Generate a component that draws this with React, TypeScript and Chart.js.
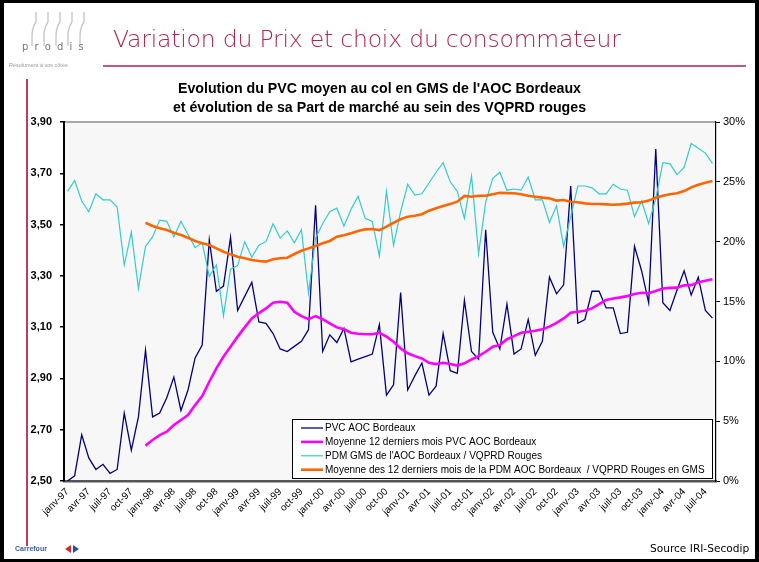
import React, { useEffect, useRef } from "react";
import { Chart, registerables } from "chart.js";

Chart.register(...registerables);

const MONTHS = ["janv", "févr", "mars", "avr", "mai", "juin", "juil", "août", "sept", "oct", "nov", "déc"];
const YEARS = ["97", "98", "99", "00", "01", "02", "03", "04"];
const N_MONTHS = 92; // janv-97 .. août-04
const CATEGORIES: string[] = [];
for (let i = 0; i < N_MONTHS; i++) CATEGORIES.push(`${MONTHS[i % 12]}-${YEARS[Math.floor(i / 12)]}`);

const LEFT_TICKS = [2.5, 2.7, 2.9, 3.1, 3.3, 3.5, 3.7, 3.9];
const RIGHT_TICKS = [0, 5, 10, 15, 20, 25, 30];

const PVC = [
  2.50, 2.52, 2.68, 2.59, 2.545, 2.565, 2.53, 2.545, 2.765, 2.62, 2.75, 3.01,
  2.75, 2.765, 2.825, 2.905, 2.775, 2.855, 2.98, 3.03, 3.44, 3.24, 3.26, 3.45,
  3.165, 3.22, 3.275, 3.12, 3.115, 3.075, 3.015, 3.005, 3.025, 3.045, 3.09, 3.575,
  3.005, 3.07, 3.04, 3.095, 2.965, 2.975, 2.985, 2.995, 3.11, 2.835, 2.875, 3.235,
  2.855, 2.91, 2.96, 2.835, 2.87, 3.075, 2.93, 2.92, 3.205, 3.005, 2.975, 3.48,
  3.08, 3.015, 3.19, 2.995, 3.015, 3.13, 2.99, 3.045, 3.295, 3.23, 3.265, 3.65,
  3.115, 3.13, 3.24, 3.24, 3.175, 3.175, 3.075, 3.08, 3.415, 3.32, 3.195, 3.795,
  3.195, 3.165, 3.245, 3.32, 3.225, 3.295, 3.165, 3.135,
];

const PVC_AVG12 = [
  null, null, null, null, null, null, null, null, null, null, null, 2.638,
  2.66, 2.679, 2.692, 2.718, 2.738, 2.757, 2.796, 2.831, 2.887, 2.939, 2.985, 3.024,
  3.063, 3.099, 3.134, 3.155, 3.173, 3.195, 3.199, 3.195, 3.16, 3.143, 3.131, 3.143,
  3.131, 3.115, 3.099, 3.092, 3.078, 3.074, 3.072, 3.072, 3.078, 3.063, 3.043, 3.017,
  2.998, 2.987, 2.978, 2.961, 2.956, 2.961, 2.956, 2.95, 2.959, 2.974, 2.987, 3.004,
  3.024, 3.03, 3.053, 3.065, 3.078, 3.082, 3.086, 3.092, 3.102, 3.117, 3.134, 3.156,
  3.16, 3.164, 3.173, 3.19, 3.206, 3.212, 3.216, 3.221, 3.229, 3.234, 3.232, 3.241,
  3.251, 3.253, 3.254, 3.263, 3.264, 3.275, 3.281, 3.287,
];

const PDM = [
  24.2, 25.1, 23.4, 22.5, 24.0, 23.5, 23.5, 22.9, 18.05, 20.8, 16.1, 19.6,
  20.4, 21.8, 21.7, 20.4, 21.7, 20.6, 19.5, 19.9, 17.1, 18.05, 13.8, 17.7,
  18.0, 20.0, 18.7, 19.7, 20.0, 21.5, 20.3, 20.9, 19.9, 21.0, 15.7, 20.3,
  21.5, 22.5, 22.8, 21.3, 22.7, 23.8, 21.95, 21.7, 18.8, 24.2, 19.7, 22.5,
  24.8, 23.9, 24.0, 24.9, 25.8, 26.6, 25.0, 24.2, 21.95, 25.5, 19.0, 23.3,
  25.3, 25.8, 24.3, 24.4, 24.3, 25.4, 23.5, 23.5, 21.6, 23.0, 19.6, 22.1,
  24.65, 24.65, 24.5, 24.0, 24.0, 24.8, 24.4, 24.3, 22.1, 23.4, 21.5, 23.6,
  26.6, 26.5, 25.6, 26.2, 28.2, 27.8, 27.4, 26.55,
];

const PDM_AVG12 = [
  null, null, null, null, null, null, null, null, null, null, null, 21.58,
  21.31, 21.12, 20.97, 20.75, 20.56, 20.33, 20.06, 19.86, 19.72, 19.44, 19.16, 18.94,
  18.74, 18.61, 18.47, 18.38, 18.33, 18.53, 18.61, 18.66, 18.97, 19.24, 19.44, 19.64,
  19.86, 20.06, 20.42, 20.53, 20.70, 20.89, 21.03, 21.06, 20.97, 21.25, 21.58, 21.87,
  22.09, 22.17, 22.29, 22.59, 22.79, 22.98, 23.15, 23.34, 23.82, 23.76, 23.84, 23.84,
  23.96, 24.09, 24.06, 24.04, 23.96, 23.84, 23.76, 23.68, 23.62, 23.43, 23.48, 23.34,
  23.29, 23.20, 23.15, 23.15, 23.12, 23.09, 23.12, 23.18, 23.26, 23.29, 23.43, 23.68,
  23.84, 23.96, 24.04, 24.23, 24.54, 24.76, 24.93, 25.07,
];

const SERIES_LABELS = [
  "PVC AOC Bordeaux",
  "Moyenne 12 derniers mois PVC AOC Bordeaux",
  "PDM GMS de l'AOC Bordeaux / VQPRD Rouges",
  "Moyenne des 12 derniers mois de la PDM AOC Bordeaux  / VQPRD Rouges en GMS",
];

const FONT = "'Liberation Sans', Arial, sans-serif";

const plotBgPlugin = {
  id: "plotBg",
  beforeDraw(chart: any) {
    const { ctx, chartArea: a } = chart;
    ctx.save();
    ctx.fillStyle = "#f7f7f7";
    ctx.fillRect(a.left, a.top, a.right - a.left, a.bottom - a.top);
    ctx.strokeStyle = "#a8a8a8";
    ctx.lineWidth = 2;
    ctx.beginPath();
    ctx.moveTo(a.left, a.top);
    ctx.lineTo(a.right, a.top);
    ctx.stroke();
    ctx.restore();
  },
};

const boxLegendPlugin = {
  id: "boxLegend",
  afterDraw(chart: any) {
    const { ctx, chartArea: a } = chart;
    const w = 420;
    const h = 59;
    const right = a.right - 4;
    const bottom = a.bottom - 3;
    const left = right - w;
    const top = bottom - h;
    ctx.save();
    ctx.fillStyle = "#ffffff";
    ctx.fillRect(left, top, w, h);
    ctx.strokeStyle = "#000";
    ctx.lineWidth = 1;
    ctx.strokeRect(left + 0.5, top + 0.5, w, h);
    ctx.font = `10px ${FONT}`;
    ctx.textBaseline = "middle";
    ctx.textAlign = "left";
    chart.data.datasets.forEach((ds: any, i: number) => {
      const y = top + 9 + i * 13.9;
      ctx.strokeStyle = ds.borderColor;
      ctx.lineWidth = ds.borderWidth;
      ctx.beginPath();
      ctx.moveTo(left + 9, y);
      ctx.lineTo(left + 31, y);
      ctx.stroke();
      ctx.fillStyle = "#000";
      ctx.fillText(ds.label, left + 33, y + 0.5);
    });
    ctx.restore();
  },
};

export default function App() {
  const ref = useRef<HTMLCanvasElement | null>(null);

  useEffect(() => {
    if (!ref.current) return;
    const chart = new Chart(ref.current, {
      type: "line",
      data: {
        labels: CATEGORIES,
        datasets: [
          { label: SERIES_LABELS[0], data: PVC, yAxisID: "y", borderColor: "#000080", borderWidth: 1.3, pointRadius: 0, tension: 0, order: 4 },
          { label: SERIES_LABELS[1], data: PVC_AVG12 as any, yAxisID: "y", borderColor: "#ff00ff", borderWidth: 2.6, pointRadius: 0, tension: 0, order: 3 },
          { label: SERIES_LABELS[2], data: PDM, yAxisID: "y1", borderColor: "#33cccc", borderWidth: 1.2, pointRadius: 0, tension: 0, order: 2 },
          { label: SERIES_LABELS[3], data: PDM_AVG12 as any, yAxisID: "y1", borderColor: "#ff6600", borderWidth: 2.6, pointRadius: 0, tension: 0, order: 1 },
        ],
      },
      options: {
        animation: false,
        responsive: false,
        maintainAspectRatio: false,
        layout: { padding: { left: 0, right: 0, top: 122, bottom: 0 } },
        plugins: { legend: { display: false }, tooltip: { enabled: false }, title: { display: false } },
        scales: {
          x: {
            type: "category",
            offset: true,
            grid: { display: false, drawTicks: false },
            border: { display: true, color: "#555", width: 2.5 },
            ticks: {
              autoSkip: false,
              maxRotation: 45,
              minRotation: 45,
              padding: 5,
              color: "#000",
              font: { family: FONT, size: 10 },
              callback: (_v: any, i: number) => (i % 3 === 0 ? CATEGORIES[i] : ""),
            },
            afterFit: (s: any) => { s.height = 81; },
          },
          y: {
            position: "left",
            min: 2.5,
            max: 3.9,
            afterBuildTicks: (s: any) => { s.ticks = LEFT_TICKS.map((v) => ({ value: v })); },
            grid: { display: true, drawOnChartArea: false, drawTicks: true, tickLength: 4, color: "#000", lineWidth: 1.5 },
            border: { display: true, color: "#000", width: 2 },
            ticks: {
              padding: 8,
              color: "#000",
              font: { family: FONT, size: 11, weight: "bold" },
              callback: (v: any) => Number(v).toFixed(2).replace(".", ","),
            },
            afterFit: (s: any) => { s.width = 64; },
          },
          y1: {
            position: "right",
            min: 0,
            max: 30,
            afterBuildTicks: (s: any) => { s.ticks = RIGHT_TICKS.map((v) => ({ value: v })); },
            grid: { display: true, drawOnChartArea: false, drawTicks: true, tickLength: 4, color: "#000", lineWidth: 1 },
            border: { display: true, color: "#000", width: 1.2 },
            ticks: {
              padding: 3,
              color: "#000",
              font: { family: FONT, size: 11 },
              callback: (v: any) => `${v}%`,
            },
            afterFit: (s: any) => { s.width = 43; },
          },
        },
      } as any,
      plugins: [plotBgPlugin, boxLegendPlugin],
    });
    return () => chart.destroy();
  }, []);

  const abs: React.CSSProperties = { position: "absolute" };
  const bottleXs = [36, 48, 60, 72, 84];

  return (
    <div style={{ position: "absolute", left: 0, top: 0, width: 759, height: 562, background: "#fff", overflow: "hidden", fontFamily: FONT }}>
      <canvas ref={ref} width={759} height={562} style={{ ...abs, left: 0, top: 0, width: 759, height: 562 }} />

      {/* prodis logo */}
      <svg width={100} height={50} style={{ ...abs, left: 0, top: 8 }}>
        {bottleXs.map((x) => (
          <path key={x} d={`M${x} 4 L${x} 14 Q${x - 4} 20 ${x - 4} 28 L${x - 4} 38`} stroke="#c8c8c8" strokeWidth={1.4} fill="none" />
        ))}
      </svg>
      <div style={{ ...abs, left: 22, top: 41, fontSize: 10, letterSpacing: 6.2, color: "#777", fontFamily: "'DejaVu Sans', sans-serif" }}>prodis</div>
      <div style={{ ...abs, left: 9, top: 62, fontSize: 5.5, color: "#999", whiteSpace: "nowrap" }}>Résolument à vos côtés</div>

      {/* page title */}
      <div style={{ ...abs, left: 113, top: 25, fontSize: 23.5, color: "#b3234b", fontFamily: "'DejaVu Sans', sans-serif", fontWeight: 300, whiteSpace: "nowrap", letterSpacing: -0.2 }}>
        Variation du Prix et choix du consommateur
      </div>
      <div style={{ ...abs, left: 103, top: 65, width: 643, height: 1.5, background: "#c2587a" }} />
      <div style={{ ...abs, left: 26, top: 79, width: 1.5, height: 467, background: "#c23a60" }} />

      {/* chart title */}
      <div style={{ ...abs, left: 0, top: 79, width: 759, textAlign: "center", fontWeight: "bold", fontSize: 14.2, lineHeight: "18.5px", color: "#000" }}>
        Evolution du PVC moyen au col en GMS de l'AOC Bordeaux
        <br />
        et évolution de sa Part de marché au sein des VQPRD rouges
      </div>

      {/* footer */}
      <div style={{ ...abs, left: 15, top: 545, fontSize: 7, fontWeight: "bold", color: "#3b5ca8", whiteSpace: "nowrap" }}>Carrefour</div>
      <div style={{ ...abs, left: 65, top: 545, width: 0, height: 0, borderTop: "4px solid transparent", borderBottom: "4px solid transparent", borderRight: "6px solid #d8262e" }} />
      <div style={{ ...abs, left: 73, top: 545, width: 0, height: 0, borderTop: "4px solid transparent", borderBottom: "4px solid transparent", borderLeft: "6px solid #2a4f9e" }} />
      <div style={{ ...abs, left: 650, top: 542, fontSize: 10.6, color: "#000", whiteSpace: "nowrap", fontFamily: "'DejaVu Sans', sans-serif" }}>Source IRI-Secodip</div>

      {/* outer frame */}
      <div style={{ ...abs, left: 0, top: 0, width: 759, height: 562, boxSizing: "border-box", borderStyle: "solid", borderColor: "#000", borderWidth: "3px 4px 3px 4px", pointerEvents: "none" }} />
    </div>
  );
}
